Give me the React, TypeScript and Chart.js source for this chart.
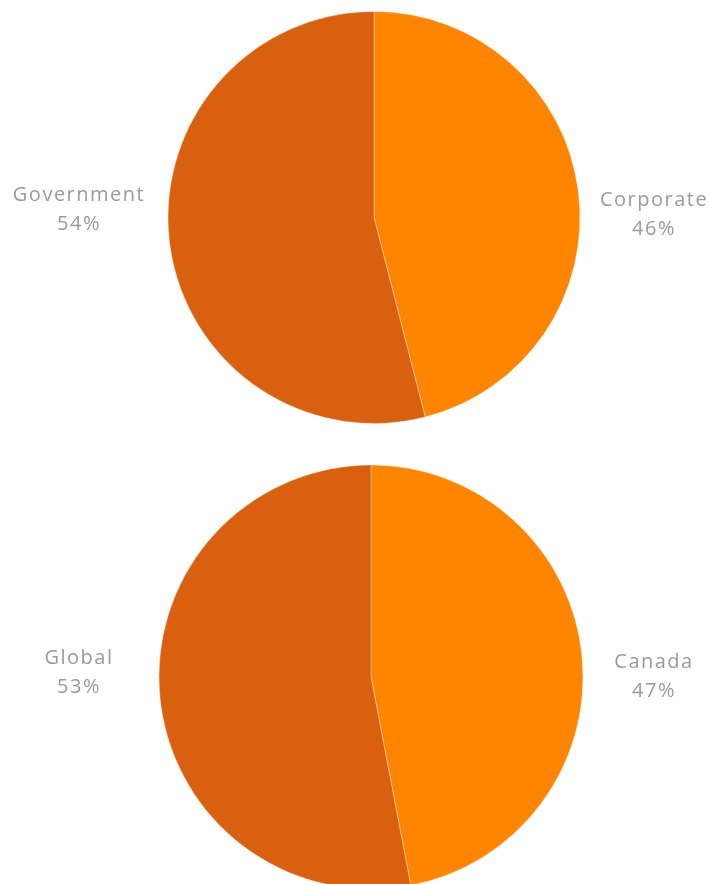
import React, { useEffect, useRef } from "react";
import { Chart, registerables } from "chart.js";

Chart.register(...registerables);

const topLabels = ["Corporate", "Government"];
const topValues = [46, 54];
const bottomLabels = ["Canada", "Global"];
const bottomValues = [47, 53];
const sliceColors = ["#FF8500", "#D9600F"];

const sideLabelPlugin = {
  id: "sideLabels",
  afterDraw(chart: any, _args: any, opts: any) {
    const ctx = chart.ctx;
    const meta = chart.getDatasetMeta(0);
    const data = chart.data.datasets[0].data as number[];
    const total = data.reduce((a, b) => a + b, 0);
    ctx.save();
    ctx.font = `${opts.fontSize}px ${opts.fontFamily}`;
    try {
      (ctx as any).letterSpacing = opts.letterSpacing;
    } catch (e) {}
    ctx.fillStyle = opts.color;
    ctx.textAlign = "center";
    ctx.textBaseline = "middle";
    meta.data.forEach((arc: any, i: number) => {
      const p = arc.getProps(["x", "y", "startAngle", "endAngle"], true);
      const mid = (p.startAngle + p.endAngle) / 2;
      const right = Math.cos(mid) >= 0;
      const lx = p.x + (right ? opts.rightDx : opts.leftDx);
      const ly = p.y + (right ? opts.rightDy : opts.leftDy);
      const pct = Math.round((data[i] / total) * 100) + "%";
      ctx.fillText(String(chart.data.labels[i]), lx, ly - opts.lineGap / 2);
      ctx.fillText(pct, lx, ly + opts.lineGap / 2);
    });
    ctx.restore();
  },
};

function PieChart({
  labels,
  values,
  radius,
  padLeft,
  label,
}: {
  labels: string[];
  values: number[];
  radius: number;
  padLeft: number;
  label: any;
}) {
  const ref = useRef<HTMLCanvasElement | null>(null);
  useEffect(() => {
    if (!ref.current) return;
    const chart = new Chart(ref.current, {
      type: "pie",
      data: {
        labels,
        datasets: [
          {
            data: values,
            backgroundColor: sliceColors,
            borderColor: "rgba(255,255,255,0.35)",
            borderWidth: 1,
          },
        ],
      },
      options: {
        animation: false,
        responsive: false,
        maintainAspectRatio: false,
        radius,
        layout: { padding: { left: padLeft } },
        plugins: {
          legend: { display: false },
          tooltip: { enabled: false },
          sideLabels: label,
        } as any,
      },
      plugins: [sideLabelPlugin],
    });
    return () => chart.destroy();
  }, []);
  return <canvas ref={ref} width={709} height={label.h} style={{ display: "block", width: 709, height: label.h }} />;
}

const labelStyle = {
  fontSize: 20,
  fontFamily: "'Open Sans', sans-serif",
  letterSpacing: "1.5px",
  color: "#9a9a9a",
  lineGap: 29,
};

export default function App() {
  return (
    <div
      style={{
        position: "fixed",
        left: 0,
        top: 0,
        width: 709,
        height: 884,
        overflow: "hidden",
        background: "#fff",
      }}
    >
      <div style={{ position: "absolute", left: 0, top: 0 }}>
        <PieChart
          labels={topLabels}
          values={topValues}
          radius={206}
          padLeft={39}
          label={{ ...labelStyle, h: 435, rightDx: 280, rightDy: -3, leftDx: -295, leftDy: -8 }}
        />
      </div>
      <div style={{ position: "absolute", left: 0, top: 455 }}>
        <PieChart
          labels={bottomLabels}
          values={bottomValues}
          radius={212}
          padLeft={33}
          label={{ ...labelStyle, h: 444, rightDx: 283, rightDy: 0, leftDx: -292, leftDy: -4 }}
        />
      </div>
    </div>
  );
}
